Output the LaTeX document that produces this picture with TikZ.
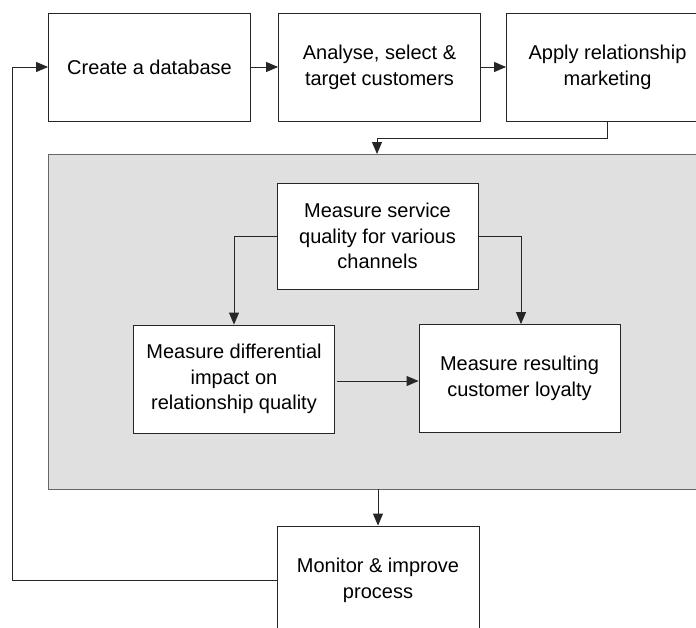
\documentclass[tikz,border=0pt]{standalone}
\usepackage{fontspec}
\setmainfont{Liberation Sans}
\usetikzlibrary{arrows.meta}
\begin{document}
\begin{tikzpicture}[x=1pt,y=-1pt,
  box/.style={draw=black!85, line width=0.9pt, fill=white, minimum width=202pt, minimum height=108pt, align=center, inner sep=2pt, font=\fontsize{20}{25.7}\selectfont},
  conn/.style={draw=black!85, line width=0.9pt},
  arr/.style={conn, -{Triangle[length=12pt,width=10pt]}}]
\useasboundingbox (0,0) rectangle (696,627);
\clip (0,0) rectangle (696,627);
\fill[white] (0,0) rectangle (696,627);
% grey panel
\node[draw=black!60, line width=1.2pt, fill=black!12, minimum width=660pt, minimum height=335pt, inner sep=0pt, anchor=north west] (panel) at (48,154) {};
% top row
\node[box] (create) at (149.5,67) {Create a database};
\node[box] (analyse) at (379.5,67) {Analyse, select \&\\target customers};
\node[box] (apply) at (607.5,67) {Apply relationship\\marketing};
% inner
\node[box, minimum width=201pt, minimum height=106pt] (service) at (377.5,236) {Measure service\\quality for various\\channels};
\node[box, minimum width=201pt] (diff) at (234,379) {Measure differential\\impact on\\relationship quality};
\node[box, minimum width=201pt] (result) at (519.5,378.5) {Measure resulting\\customer loyalty};
% bottom
\node[box] (monitor) at (378,580) {Monitor \& improve\\process};
\coordinate (loopx) at (12.5,0);
% connectors
\draw[arr] (create.east) -- (analyse.west);
\draw[arr] (analyse.east) -- (apply.west);
\draw[arr] (apply.south) |- (377,138) -- (377,154);
\draw[arr] (service.west) -| (diff.north);
\draw[arr] (service.east) -| ([xshift=1.5pt]result.north);
\draw[arr, shorten <=2pt] (diff.east |- 0,381) -- (result.west |- 0,381);
\draw[arr] (378,489) -- (monitor.north);
\draw[arr] (monitor.west) -| (loopx |- monitor.west) -- (loopx |- create.west) -- (create.west);
\end{tikzpicture}
\end{document}
